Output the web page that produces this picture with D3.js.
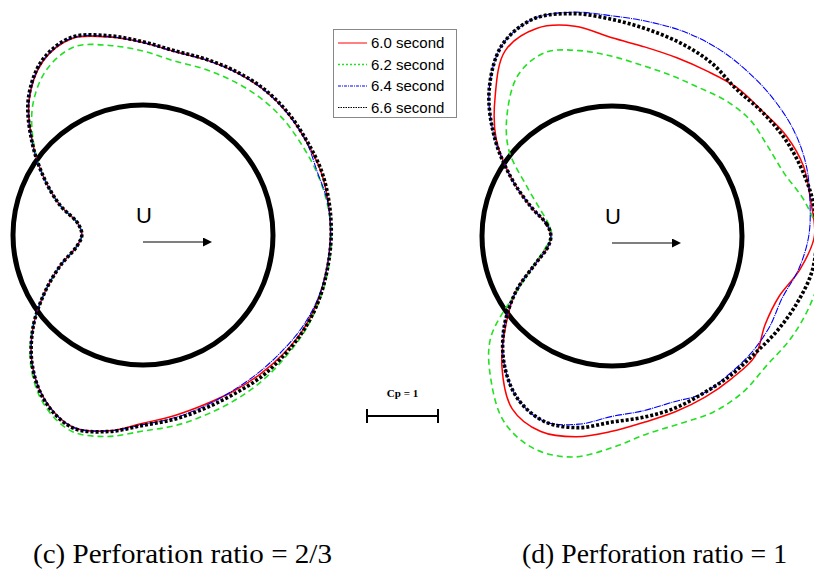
<!DOCTYPE html>
<html>
<head>
<meta charset="utf-8">
<script src="https://cdn.jsdelivr.net/npm/d3@7"></script>
<style>
  body { margin: 0; background: #fff; }
  svg { display: block; }
</style>
</head>
<body>
<svg id="chart"></svg>
<script>
// angle measured from the upstream point (left), going over the top
const angles = d3.range(0, 360, 10);
const times = ["6.0 second", "6.2 second", "6.4 second", "6.6 second"];

// (c) perforation ratio 2/3, Cp at each angle
const c60 = [0.97, 0.90, 0.58, 0.22, -0.20, -0.66, -0.99, -1.11, -1.00, -0.88, -0.79, -0.79, -0.81, -0.83, -0.83, -0.82, -0.83, -0.82, -0.81, -0.80, -0.80, -0.79, -0.76, -0.73, -0.71, -0.71, -0.75, -0.82, -0.97, -1.05, -0.89, -0.59, -0.19, 0.24, 0.60, 0.88];
const c62 = [0.97, 0.90, 0.58, 0.22, -0.18, -0.58, -0.87, -0.99, -0.88, -0.76, -0.66, -0.66, -0.68, -0.71, -0.73, -0.74, -0.77, -0.80, -0.82, -0.82, -0.82, -0.82, -0.81, -0.82, -0.83, -0.85, -0.89, -0.93, -1.05, -1.11, -0.94, -0.62, -0.20, 0.24, 0.60, 0.88];
const c64 = [0.97, 0.90, 0.58, 0.22, -0.21, -0.67, -1.00, -1.12, -1.01, -0.88, -0.79, -0.79, -0.81, -0.83, -0.83, -0.82, -0.78, -0.81, -0.81, -0.80, -0.79, -0.76, -0.72, -0.70, -0.70, -0.73, -0.78, -0.84, -0.97, -1.05, -0.89, -0.59, -0.19, 0.24, 0.60, 0.88];
const c66 = [0.97, 0.90, 0.58, 0.22, -0.21, -0.68, -1.01, -1.13, -1.02, -0.89, -0.80, -0.80, -0.82, -0.84, -0.84, -0.83, -0.84, -0.83, -0.82, -0.81, -0.81, -0.80, -0.78, -0.77, -0.75, -0.76, -0.80, -0.85, -0.98, -1.06, -0.90, -0.59, -0.19, 0.24, 0.60, 0.88];

// (d) perforation ratio 1
const d60 = [0.97, 0.90, 0.61, 0.19, -0.30, -0.73, -1.18, -1.28, -1.17, -0.96, -0.87, -0.84, -0.85, -0.90, -0.92, -1.00, -1.04, -1.01, -1.02, -0.86, -0.67, -0.66, -0.80, -0.79, -0.79, -0.80, -0.83, -0.92, -1.04, -1.10, -0.98, -0.58, -0.12, 0.27, 0.68, 0.91];
const d62 = [0.98, 0.93, 0.76, 0.45, -0.07, -0.46, -0.80, -0.92, -0.82, -0.70, -0.61, -0.58, -0.59, -0.66, -0.71, -0.70, -0.75, -0.93, -1.08, -1.15, -1.12, -1.07, -1.01, -1.04, -1.03, -0.98, -1.00, -1.15, -1.33, -1.36, -1.20, -0.82, -0.40, 0.29, 0.67, 0.88];
const d64 = [0.97, 0.90, 0.61, 0.19, -0.33, -0.86, -1.27, -1.42, -1.37, -1.27, -1.23, -1.22, -1.20, -1.17, -1.15, -1.13, -1.08, -1.00, -0.94, -0.84, -0.72, -0.73, -0.73, -0.72, -0.73, -0.66, -0.67, -0.71, -0.86, -0.95, -0.82, -0.53, -0.15, 0.27, 0.68, 0.91];
const d66 = [0.97, 0.90, 0.61, 0.19, -0.33, -0.86, -1.27, -1.42, -1.35, -1.22, -1.12, -1.05, -0.98, -0.88, -0.91, -0.96, -1.00, -1.04, -1.05, -1.03, -0.94, -0.85, -0.77, -0.745, -0.73, -0.75, -0.76, -0.79, -0.91, -0.95, -0.82, -0.53, -0.15, 0.27, 0.68, 0.91];

const captions = ["(c) Perforation ratio = 2/3", "(d) Perforation ratio = 1"];

const width = 814, height = 575;
const R = 130;

const svg = d3.select("#chart")
    .attr("width", width)
    .attr("height", height);

// Cp -> radius: Cp = 0 on the cylinder, Cp = 1 pulls 71px inward
const rScale = d3.scaleLinear().domain([0, 1]).range([R, R - 71]);
const aScale = d3.scaleLinear().domain([0, 360]).range([-Math.PI / 2, 3 * Math.PI / 2]);

const styles = [
    { color: "#ff0000", width: 1.5, dash: null, legDash: null, legWidth: 1 },
    { color: "#22e022", width: 1.6, dash: "6,4", legDash: "2,2", legWidth: 1.5 },
    { color: "#0000ff", width: 1.1, dash: "7,1,1,1", legDash: "3,1,1,1", legWidth: 1 },
    { color: "#000000", width: 3.6, dash: "3,2", legDash: "1.5,1", legWidth: 1.2 }
];

const radial = d3.lineRadial()
    .angle((d, i) => aScale(angles[i]))
    .radius(d => rScale(d))
    .curve(d3.curveCatmullRomClosed.alpha(0.5));

svg.append("defs").append("marker")
    .attr("id", "arrow")
    .attr("viewBox", "0 0 10 10")
    .attr("refX", 0).attr("refY", 5)
    .attr("markerWidth", 11).attr("markerHeight", 9)
    .attr("markerUnits", "userSpaceOnUse")
    .attr("orient", "auto")
    .append("path")
    .attr("d", "M0,0 L10,5 L0,10 z")
    .attr("fill", "#000");

const panels = [
    { cx: 143, cy: 235, series: [c60, c62, c64, c66], capX: 33, capW: 299 },
    { cx: 612, cy: 236, series: [d60, d62, d64, d66], capX: 522, capW: 265 }
];

panels.forEach((p, k) => {
    const g = svg.append("g").attr("transform", `translate(${p.cx},${p.cy})`);

    g.append("circle")
        .attr("r", R)
        .attr("fill", "none")
        .attr("stroke", "#000")
        .attr("stroke-width", 5);

    p.series.forEach((s, i) => {
        g.append("path")
            .attr("d", radial(s))
            .attr("fill", "none")
            .attr("stroke", styles[i].color)
            .attr("stroke-width", styles[i].width)
            .attr("stroke-dasharray", styles[i].dash);
    });

    g.append("text")
        .attr("x", 1).attr("y", -12)
        .attr("text-anchor", "middle")
        .attr("font-family", "'Liberation Sans', Arial, sans-serif")
        .attr("font-size", 22)
        .text("U");

    g.append("line")
        .attr("x1", 0).attr("y1", 7)
        .attr("x2", 60).attr("y2", 7)
        .attr("stroke", "#555")
        .attr("stroke-width", 1.5)
        .attr("marker-end", "url(#arrow)");

    svg.append("text")
        .attr("x", p.capX).attr("y", 563)
        .attr("font-family", "'Liberation Serif', 'Times New Roman', serif")
        .attr("font-size", 27)
        .attr("textLength", p.capW)
        .attr("lengthAdjust", "spacingAndGlyphs")
        .text(captions[k]);
});

// legend
const leg = svg.append("g");
leg.append("rect")
    .attr("x", 333.5).attr("y", 29.5)
    .attr("width", 123).attr("height", 88)
    .attr("fill", "#fff")
    .attr("stroke", "#888")
    .attr("stroke-width", 1);

times.forEach((t, i) => {
    const y = 43 + i * 21.5;
    leg.append("line")
        .attr("x1", 338).attr("x2", 367)
        .attr("y1", y).attr("y2", y)
        .attr("stroke", styles[i].color)
        .attr("stroke-width", styles[i].legWidth)
        .attr("stroke-dasharray", styles[i].legDash);
    leg.append("text")
        .attr("x", 371).attr("y", y + 5)
        .attr("font-family", "'Liberation Sans', Arial, sans-serif")
        .attr("font-size", 15)
        .text(t);
});

// scale bar, length of Cp = 1
const barLen = rScale(0) - rScale(1);
const bx = 367, by = 416;
svg.append("text")
    .attr("x", bx + barLen / 2).attr("y", 397)
    .attr("text-anchor", "middle")
    .attr("font-family", "'Liberation Serif', 'Times New Roman', serif")
    .attr("font-weight", "bold")
    .attr("font-size", 11)
    .text("Cp = 1");
svg.append("path")
    .attr("d", `M${bx},${by - 7}V${by + 7}M${bx},${by}H${bx + barLen}M${bx + barLen},${by - 7}V${by + 7}`)
    .attr("fill", "none")
    .attr("stroke", "#000")
    .attr("stroke-width", 2);
</script>
</body>
</html>
